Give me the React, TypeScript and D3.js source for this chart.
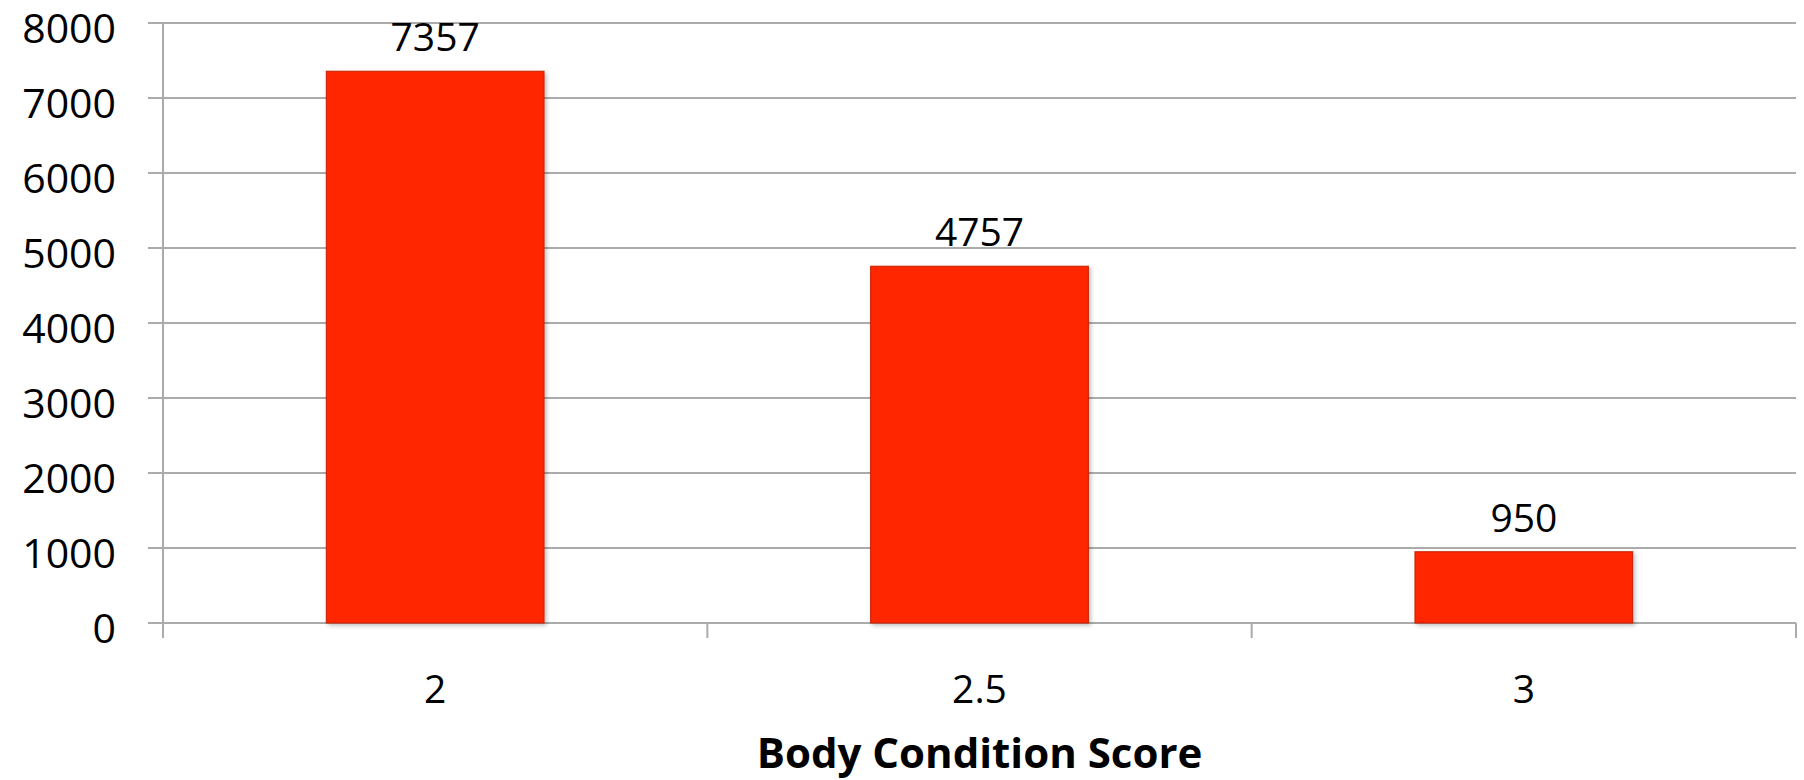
import React from "react";
import * as d3 from "d3";

const categories: string[] = ["2", "2.5", "3"];
const values: number[] = [7357, 4757, 950];
const yTicks: number[] = [0, 1000, 2000, 3000, 4000, 5000, 6000, 7000, 8000];
const xTitle = "Body Condition Score";

const W = 1804;
const H = 780;
const left = 163;
const right = 1796;
const top = 23;
const bottom = 623;

export default function App() {
  const y = d3.scaleLinear().domain([0, 8000]).range([bottom, top]);
  const x = d3.scaleBand<string>().domain(categories).range([left, right]).paddingInner(0).paddingOuter(0);
  const barW = x.bandwidth() * 0.4;
  const boundaries = [...categories.map((c) => x(c) as number), right];
  const font = "'Open Sans', 'DejaVu Sans', sans-serif";
  const grid = "#ababab";

  return (
    <div style={{ position: "fixed", left: 0, top: 0 }}>
      <svg width={W} height={H} style={{ display: "block", background: "#fff" }}>
        <defs>
          <filter id="shadow" x="-10%" y="-10%" width="120%" height="120%">
            <feDropShadow dx="2" dy="2" stdDeviation="2" floodColor="#000" floodOpacity="0.25" />
          </filter>
        </defs>
        {yTicks.map((t) => (
          <line key={"g" + t} x1={left - 15} x2={right} y1={y(t)} y2={y(t)} stroke={grid} strokeWidth={2} />
        ))}
        <line x1={left} x2={left} y1={top} y2={bottom + 15} stroke={grid} strokeWidth={2} />
        {boundaries.map((b, i) => (
          <line key={"xt" + i} x1={b} x2={b} y1={bottom} y2={bottom + 15} stroke={grid} strokeWidth={2} />
        ))}
        {categories.map((c, i) => {
          const cx = (x(c) as number) + x.bandwidth() / 2;
          return (
            <g key={"b" + c}>
              <rect
                x={cx - barW / 2}
                y={y(values[i])}
                width={barW}
                height={y(0) - y(values[i])}
                fill="#ff2600"
                stroke="#c42000"
                strokeWidth={1}
                filter="url(#shadow)"
              />
              <text x={cx} y={y(values[i]) - 20} textAnchor="middle" fontFamily={font} fontSize={39} fill="#000">
                {values[i]}
              </text>
              <text x={cx} y={703} textAnchor="middle" fontFamily={font} fontSize={39} fill="#000">
                {c}
              </text>
            </g>
          );
        })}
        {yTicks.map((t) => (
          <text key={"yl" + t} x={116} y={y(t) + 20} textAnchor="end" fontFamily={font} fontSize={41} fill="#000">
            {t}
          </text>
        ))}
        <text x={(left + right) / 2} y={768} textAnchor="middle" fontFamily={font} fontSize={42} fontWeight="bold" fill="#000">
          {xTitle}
        </text>
      </svg>
    </div>
  );
}
